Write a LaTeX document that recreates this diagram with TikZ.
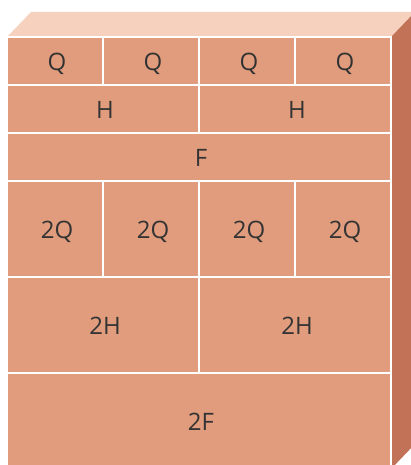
\documentclass[tikz,border=0pt]{standalone}
\usepackage{fontspec}
\setmainfont{Open Sans}
\usepackage{tikz}
\definecolor{Frente}{RGB}{224,156,124}
\definecolor{Techo}{RGB}{246,210,190}
\definecolor{Lado}{RGB}{194,114,86}
\definecolor{Texto}{RGB}{51,51,51}
\tikzset{
  celda/.style={draw=white,line width=2pt,fill=Frente,text=Texto,
    inner sep=0pt,outer sep=0pt,font=\fontsize{24}{28}\selectfont,
    text height=20pt,text depth=0pt,
    execute at begin node=\hspace*{4pt}},
  cuarto/.style={celda,minimum width=96pt,minimum height=48pt},
  medio/.style={celda,minimum width=192pt,minimum height=48pt},
  entero/.style={celda,minimum width=384pt,minimum height=48pt},
  dcuarto/.style={celda,minimum width=96pt,minimum height=96pt},
  dmedio/.style={celda,minimum width=192pt,minimum height=96pt},
  dentero/.style={celda,minimum width=384pt,minimum height=96pt}
}

\begin{document}
\begin{tikzpicture}[x=1pt,y=1pt]
  \useasboundingbox (0,0) rectangle (411,465);
  % caras del bloque
  \fill[Techo] (7,428) -- (391,428) -- (415,453) -- (31,453) -- cycle;
  \fill[Lado] (391,428) -- (415,453) -- (415,21) -- (391,-4) -- cycle;
  \fill[Frente] (7,-4) rectangle (391,428);
  % fila de cuartos
  \node[cuarto] (q1) at (55,404) {Q};
  \node[cuarto] (q2) at (151,404) {Q};
  \node[cuarto] (q3) at (247,404) {Q};
  \node[cuarto] (q4) at (343,404) {Q};
  % medios y entero
  \node[medio] (h1) at (103,356) {H};
  \node[medio] (h2) at (295,356) {H};
  \node[entero] (f) at (199,308) {F};
  % filas dobles
  \node[dcuarto] (qq1) at (55,236) {2Q};
  \node[dcuarto] (qq2) at (151,236) {2Q};
  \node[dcuarto] (qq3) at (247,236) {2Q};
  \node[dcuarto] (qq4) at (343,236) {2Q};
  \node[dmedio] (hh1) at (103,140) {2H};
  \node[dmedio] (hh2) at (295,140) {2H};
  \node[dentero] (ff) at (199,44) {2F};
\end{tikzpicture}
\end{document}
